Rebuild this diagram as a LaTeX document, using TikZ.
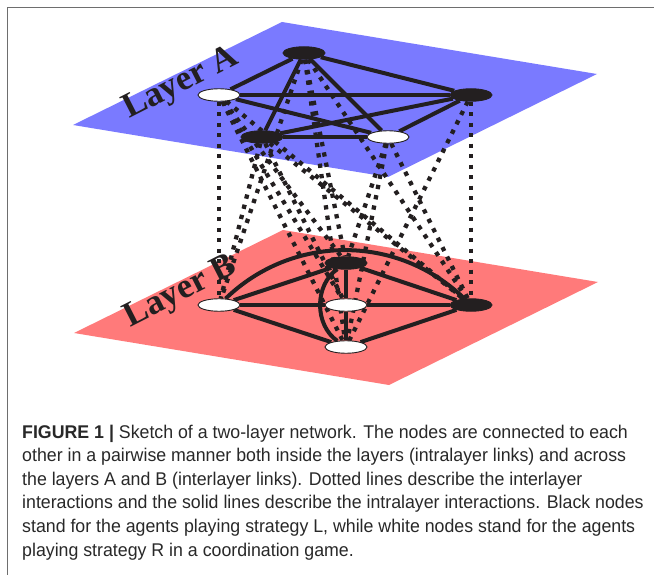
\documentclass[tikz,border=0pt]{standalone}
\usepackage{fontspec}
\setmainfont{Liberation Serif}
\newfontfamily\capfont{Liberation Sans}[FakeStretch=0.965]
\usetikzlibrary{shapes.geometric}

\definecolor{ink}{RGB}{35,31,32}
\definecolor{planeA}{RGB}{122,122,255}
\definecolor{planeB}{RGB}{255,122,122}
\definecolor{framegray}{RGB}{110,110,110}
\definecolor{captext}{RGB}{40,40,40}

\pgfdeclarelayer{planes}
\pgfdeclarelayer{links}
\pgfsetlayers{planes,links,main}

\begin{document}
\begin{tikzpicture}[x=1pt,y=-1pt,
  agent/.style={ellipse, draw=ink, line width=0.9pt, minimum width=42pt,
                minimum height=12.5pt, inner sep=0pt},
  lagent/.style={agent, fill=ink},
  ragent/.style={agent, fill=white},
  intra/.style={draw=ink, line width=4pt},
  inter/.style={draw=ink, line width=4.3pt, dash pattern=on 4.3pt off 6.2pt},
  layerlabel/.style={font=\bfseries\fontsize{35}{35}\selectfont, text=ink,
                     rotate=27, inner sep=0pt},
  capline/.style={anchor=base west, inner sep=0pt,
                  font=\capfont\fontsize{18.4}{24}\selectfont, text=captext}]

\useasboundingbox (0,0) rectangle (654,575);

% page frame (open to the right and bottom)
\draw[framegray, line width=1.5pt] (7.5,575) -- (7.5,7.5) -- (654,7.5);

% the two layers and their names
\begin{pgfonlayer}{planes}
  \fill[planeA] (282,22) -- (597,74) -- (388,177) -- (73,125) -- cycle;
  \fill[planeB] (283,230) -- (598,282) -- (389,385) -- (74,333) -- cycle;
  \node[layerlabel] (labA) at (181,84) {Layer A};
  \node[layerlabel] (labB) at (181,293) {Layer B};
\end{pgfonlayer}

% agents of layer A
\node[lagent] (A1) at (304,53) {};
\node[ragent] (A2) at (219,95) {};
\node[lagent] (A3) at (471,95) {};
\node[lagent] (A4) at (262,137) {};
\node[ragent] (A5) at (388,137) {};

% agents of layer B
\node[lagent] (B1) at (346,263) {};
\node[ragent] (B2) at (219,305) {};
\node[ragent] (B3) at (346,305) {};
\node[lagent] (B4) at (471,305) {};
\node[ragent] (B5) at (346,347) {};

\begin{pgfonlayer}{links}
  % interlayer links
  \foreach \a/\b in {A2/B2, A3/B4, A1/B2, A4/B2, A4/B4, A2/B4, A1/B1, A1/B5,
                     A5/B5, A5/B4, A3/B5, A2/B5, A2/B3, A4/B3, A2/B1, A1/B4,
                     A5/B1}
    \draw[inter] (\a) -- (\b);
  % intralayer links, layer A
  \foreach \a/\b in {A1/A2, A1/A3, A1/A4, A1/A5, A2/A3, A2/A5, A3/A4, A3/A5,
                     A4/A5}
    \draw[intra] (\a) -- (\b);
  % intralayer links, layer B
  \foreach \a/\b in {B1/B2, B1/B3, B1/B4, B2/B3, B2/B5, B3/B4, B3/B5, B4/B5}
    \draw[intra] (\a) -- (\b);
  \draw[intra] (B2) to[bend left=44] (B4);
  \draw[intra] (B1) to[out=215, in=145] (B5);
\end{pgfonlayer}

% caption
\node[capline] (cap1) at (22,438)
  {{\bfseries FIGURE 1 |} Sketch of a two-layer network. The nodes are connected to each};
\node[capline] (cap2) at (22,461.6)
  {other in a pairwise manner both inside the layers (intralayer links) and across};
\node[capline] (cap3) at (22,485.2)
  {the layers A and B (interlayer links). Dotted lines describe the interlayer};
\node[capline] (cap4) at (22,508.8)
  {interactions and the solid lines describe the intralayer interactions. Black nodes};
\node[capline] (cap5) at (22,532.4)
  {stand for the agents playing strategy L, while white nodes stand for the agents};
\node[capline] (cap6) at (22,556)
  {playing strategy R in a coordination game.};
\end{tikzpicture}
\end{document}
